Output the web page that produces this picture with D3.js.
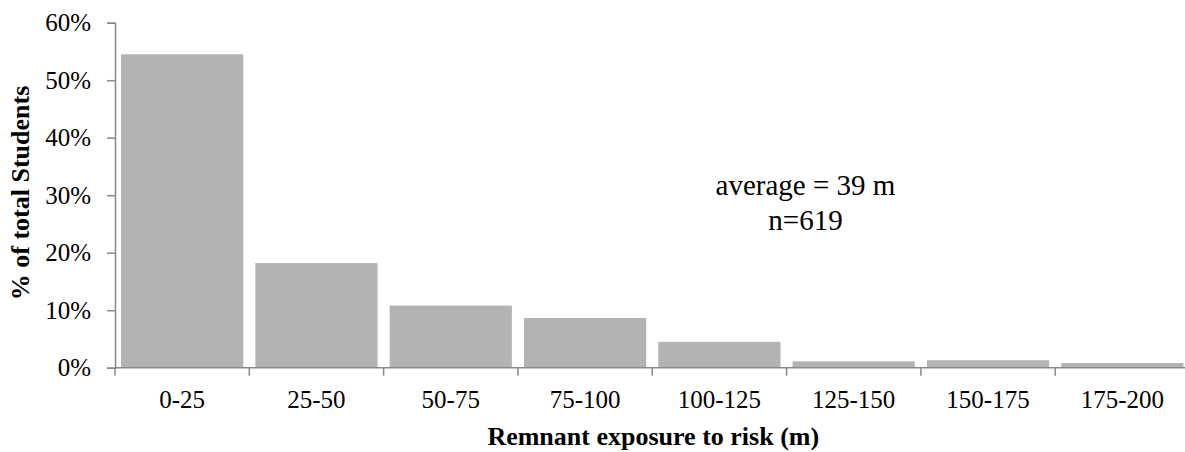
<!DOCTYPE html>
<html>
<head>
<meta charset="utf-8">
<script src="https://cdn.jsdelivr.net/npm/d3@7"></script>
<style>
  html, body { margin: 0; padding: 0; background: #fff; }
  svg { display: block; font-family: "Liberation Serif", "Times New Roman", serif; }
</style>
</head>
<body>
<svg id="chart" width="1185" height="452"></svg>
<script>
const categories = ["0-25", "25-50", "50-75", "75-100", "100-125", "125-150", "150-175", "175-200"];
const values = [54.5, 18.2, 10.8, 8.65, 4.5, 1.1, 1.3, 0.8];
const yTicks = [0, 10, 20, 30, 40, 50, 60];
const annotationLines = ["average = 39 m", "n=619"];
const xTitle = "Remnant exposure to risk (m)";
const yTitle = "% of total Students";

const svg = d3.select("#chart");
const plotLeft = 115, plotRight = 1189.5, plotTop = 22.7, plotBottom = 367.7;
const axisColor = "#898989";

const x = d3.scaleBand().domain(categories).range([plotLeft, plotRight]).paddingInner(0.09).paddingOuter(0.045);
const y = d3.scaleLinear().domain([0, 60]).range([plotBottom, plotTop]);

// bars
svg.append("g").selectAll("rect").data(values).join("rect")
  .attr("x", (d, i) => x(categories[i]))
  .attr("width", x.bandwidth())
  .attr("y", d => y(d))
  .attr("height", d => y(0) - y(d))
  .attr("fill", "#b3b3b3");

// y axis
const yAxis = svg.append("g").attr("transform", `translate(${plotLeft},0)`)
  .call(d3.axisLeft(y).tickValues(yTicks).tickFormat(d => d + "%").tickSizeOuter(0).tickSize(8).tickPadding(16));
yAxis.attr("font-family", "Liberation Serif");
yAxis.select(".domain").attr("stroke", axisColor).attr("stroke-width", 1.5);
yAxis.selectAll(".tick line").attr("stroke", axisColor).attr("stroke-width", 1.5);
yAxis.selectAll("text").attr("font-size", 25).attr("fill", "#000");

// x axis
const xTickScale = d3.scaleLinear().domain([0, categories.length]).range([plotLeft, plotRight]);
const xAxisG = svg.append("g").attr("transform", `translate(0,${plotBottom})`);
xAxisG.append("line").attr("x1", plotLeft).attr("x2", plotRight).attr("stroke", axisColor).attr("stroke-width", 1.5);
xAxisG.selectAll("line.tk").data(d3.range(categories.length + 1)).join("line").attr("class", "tk")
  .attr("x1", d => xTickScale(d)).attr("x2", d => xTickScale(d))
  .attr("y1", 0).attr("y2", 8).attr("stroke", axisColor).attr("stroke-width", 1.5);
xAxisG.selectAll("text").data(categories).join("text")
  .attr("x", d => x(d) + x.bandwidth() / 2)
  .attr("y", 40)
  .attr("text-anchor", "middle")
  .attr("font-size", 25)
  .text(d => d);

// titles
svg.append("text")
  .attr("x", (plotLeft + plotRight) / 2 + 1).attr("y", 445)
  .attr("text-anchor", "middle").attr("font-weight", "bold").attr("font-size", 26)
  .text(xTitle);
svg.append("text")
  .attr("transform", `translate(29,193) rotate(-90)`)
  .attr("text-anchor", "middle").attr("font-weight", "bold").attr("font-size", 26)
  .text(yTitle);

// annotation
svg.append("g").selectAll("text").data(annotationLines).join("text")
  .attr("x", 805.5).attr("y", (d, i) => 195 + i * 35)
  .attr("text-anchor", "middle").attr("font-size", 29)
  .text(d => d);
</script>
</body>
</html>
